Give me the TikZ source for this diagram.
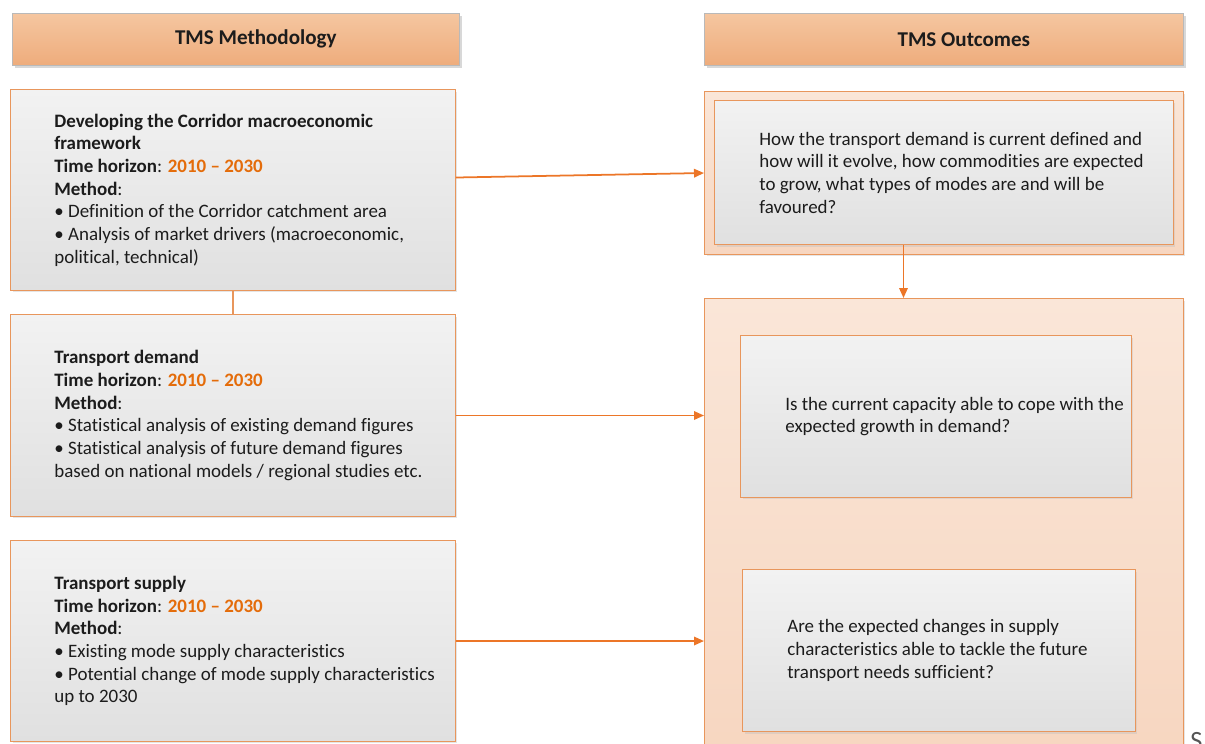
\documentclass[tikz,border=0pt]{standalone}
\usepackage{fontspec}
\setmainfont{Carlito}[Ligatures=NoCommon]
\usepackage{xcolor}
\usepackage{tikz}
\usetikzlibrary{positioning,arrows.meta,shadows}

\definecolor{tmsorange}{RGB}{228,108,10}
\definecolor{tmsline}{RGB}{236,118,40}
\definecolor{tmsframe}{RGB}{232,150,92}
\definecolor{hdrtop}{RGB}{245,198,160}
\definecolor{hdrbot}{RGB}{238,172,124}
\definecolor{peachtop}{RGB}{250,230,216}
\definecolor{peachbot}{RGB}{247,214,192}
\definecolor{greytop}{RGB}{242,242,242}
\definecolor{greybot}{RGB}{224,224,224}
\definecolor{tmstext}{RGB}{28,28,28}

\newcommand{\tmsyears}{\textcolor{tmsorange}{2010 -- 2030}}

\tikzset{
  hdr/.style={draw=gray!55, top color=hdrtop, bottom color=hdrbot,
    minimum height=1.04cm, anchor=north west, inner sep=0,
    font=\fontsize{12}{14}\selectfont\bfseries, text=tmstext,
    drop shadow={shadow xshift=0.05cm, shadow yshift=-0.05cm, fill=gray!60, opacity=0.5}},
  methbox/.style={draw=tmsframe, line width=0.6pt, top color=greytop, bottom color=greybot,
    anchor=north west, inner sep=0,
    drop shadow={shadow xshift=0.04cm, shadow yshift=-0.04cm, fill=gray!50, opacity=0.4}},
  outbox/.style={draw=tmsframe, line width=0.6pt, top color=peachtop, bottom color=peachbot,
    anchor=north west, inner sep=0,
    drop shadow={shadow xshift=0.04cm, shadow yshift=-0.04cm, fill=gray!50, opacity=0.4}},
  txt/.style={inner sep=0, align=left, text=tmstext, font=\fontsize{10.8}{12.9}\selectfont},
  flow/.style={draw=tmsline, line width=1pt, -{Triangle[length=0.2cm,width=0.17cm]}},
  link/.style={draw=tmsframe, line width=0.6pt}
}

\begin{document}
\begin{tikzpicture}[x=0.02cm,y=-0.02cm]
	\useasboundingbox (0,0) rectangle (1205,744);
	
	% headers
	\node[hdr, minimum width=8.94cm] (hdrM) at (12,13) {\hspace*{0.8cm}TMS Methodology};
	\node[hdr, minimum width=9.58cm] (hdrO) at (704,13) {\hspace*{0.8cm}TMS Outcomes};
	
	% methodology boxes
	\node[methbox, minimum width=8.9cm, minimum height=4.02cm] (dev) at (10,89) {};
	\node[methbox, minimum width=8.9cm, minimum height=4.04cm] (dem) at (10,314) {};
	\node[methbox, minimum width=8.9cm, minimum height=4.02cm] (sup) at (10,540) {};
	
	\node[txt, right=0.88cm of dev.west] (devtxt) {%
		\textbf{Developing the Corridor macroeconomic}\\
		\textbf{framework}\\
		\textbf{Time horizon}: \textbf{\tmsyears}\\
		\textbf{Method}:\\
		\textbullet\ Definition of the Corridor catchment area\\
		\textbullet\ Analysis of market drivers (macroeconomic,\\
		political, technical)};
	\node[txt, right=0.88cm of dem.west] (demtxt) {%
		\textbf{Transport demand}\\
		\textbf{Time horizon}: \textbf{\tmsyears}\\
		\textbf{Method}:\\
		\textbullet\ Statistical analysis of existing demand figures\\
		\textbullet\ Statistical analysis of future demand figures\\
		based on national models / regional studies etc.};
	\node[txt, right=0.88cm of sup.west] (suptxt) {%
		\textbf{Transport supply}\\
		\textbf{Time horizon}: \textbf{\tmsyears}\\
		\textbf{Method}:\\
		\textbullet\ Existing mode supply characteristics\\
		\textbullet\ Potential change of mode supply characteristics\\
		up to 2030};
	
	% outcome boxes
	\node[outbox, minimum width=9.58cm, minimum height=3.26cm] (outA) at (704,91) {};
	\node[methbox, minimum width=9.18cm, minimum height=2.88cm] (inA) at (714,100) {};
	\node[outbox, minimum width=9.58cm, minimum height=9.24cm] (outB) at (704,298) {};
	\node[methbox, minimum width=7.82cm, minimum height=3.24cm] (inB) at (740,335) {};
	\node[methbox, minimum width=7.86cm, minimum height=3.24cm] (inC) at (742,569) {};
	
	\node[txt, right=0.9cm of inA.west] (inAtxt) {%
		How the transport demand is current defined and\\
		how will it evolve, how commodities are expected\\
		to grow, what types of modes are and will be\\
		favoured?};
	\node[txt, right=0.9cm of inB.west] (inBtxt) {%
		Is the current capacity able to cope with the\\
		expected growth in demand?};
	\node[txt, right=0.9cm of inC.west] (inCtxt) {%
		Are the expected changes in supply\\
		characteristics able to tackle the future\\
		transport needs sufficient?};
	
	\node[txt, anchor=north west, text=tmstext!75, font=\fontsize{15}{17}\selectfont] (pageS) at (1190,732) {S};
	
	% connectors
	\draw[link] (dev.south) -- (dem.north);
	\draw[flow] ([yshift=0.25cm]dev.east) -- (outA.west);
	\draw[flow] (dem.east) -- (dem.east -| outB.west);
	\draw[flow] (sup.east) -- (sup.east -| outB.west);
	\draw[flow] ([xshift=-0.81cm]inA.south) -- ([xshift=-0.81cm]inA.south |- outB.north);
\end{tikzpicture}
\end{document}
